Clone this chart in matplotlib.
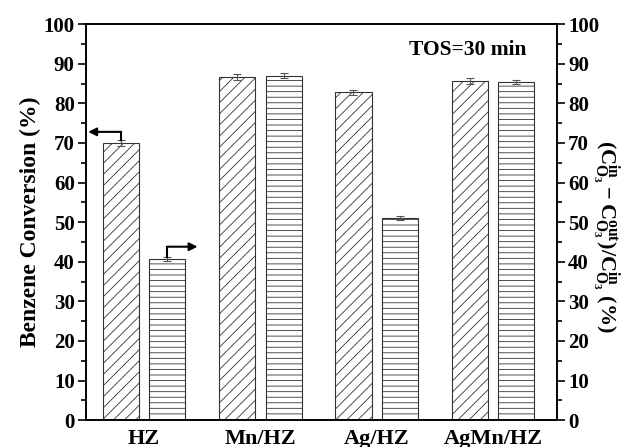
"""Bar chart of benzene conversion and ozone conversion over HZ-based catalysts."""
import matplotlib.pyplot as plt
from matplotlib.ticker import MultipleLocator
import numpy

plt.rcParams["font.family"] = ["Liberation Serif", "DejaVu Serif"]
plt.rcParams["font.weight"] = "bold"
plt.rcParams["axes.labelweight"] = "bold"
plt.rcParams["mathtext.fontset"] = "custom"
plt.rcParams["mathtext.rm"] = "Liberation Serif:bold"
plt.rcParams["mathtext.it"] = "Liberation Serif:bold"
plt.rcParams["mathtext.bf"] = "Liberation Serif:bold"
plt.rcParams["hatch.linewidth"] = 0.6

catalysts = ["HZ", "Mn/HZ", "Ag/HZ", "AgMn/HZ"]
benzene = [70.0, 86.7, 82.8, 85.7]
benzene_err = [0.8, 0.8, 0.6, 0.8]
ozone = [40.7, 87.0, 51.0, 85.4]
ozone_err = [0.6, 0.6, 0.5, 0.4]

fig, ax = plt.subplots(figsize=(6.36, 4.47), dpi=100)
fig.subplots_adjust(left=0.135, right=0.876, top=0.946, bottom=0.06)

x = numpy.arange(len(catalysts))
width = 0.31
offset = 0.2
err_kw = dict(ecolor="#555555", elinewidth=0.8, capsize=3, capthick=0.8)
ax.bar(x - offset, benzene, width, yerr=benzene_err, facecolor="white",
       edgecolor="#333333", linewidth=0.8, hatch="///", error_kw=err_kw)
ax2 = ax.twinx()
ax2.bar(x + offset, ozone, width, yerr=ozone_err, facecolor="white",
        edgecolor="#333333", linewidth=0.8, hatch="---", error_kw=err_kw)

for axis in (ax, ax2):
    axis.set_ylim(0, 100)
    axis.yaxis.set_major_locator(MultipleLocator(10))
    axis.yaxis.set_minor_locator(MultipleLocator(5))
    axis.tick_params(axis="y", which="major", length=6, width=1.2,
                     labelsize=15, pad=2)
    axis.tick_params(axis="y", which="minor", length=3.5, width=1.2)
    for spine in axis.spines.values():
        spine.set_linewidth(1.2)
ax.set_xlim(-0.5, 3.55)
ax.set_xticks(x, catalysts, fontsize=16)
ax.tick_params(axis="x", length=0, pad=6)

ax.set_ylabel("Benzene Conversion (%)", fontsize=17, labelpad=2)
ax2.set_ylabel(r"$(\mathrm{C}_{\mathrm{O_3}}^{\mathrm{in}}-\mathrm{C}_{\mathrm{O_3}}^{\mathrm{out}})/"
               r"\mathrm{C}_{\mathrm{O_3}}^{\mathrm{in}}$ (%)",
               fontsize=16, rotation=270, labelpad=16)
ax2.yaxis.set_label_coords(1.135, 0.465)

ax.text(0.934, 0.934, "TOS=30 min", transform=ax.transAxes, ha="right",
        va="center", fontsize=15.5)

# Arrows pointing each series of the first group to its axis
arrow_kw = dict(color="black", linewidth=1.5)
head_kw = dict(arrowstyle="-|>", color="black", lw=1.5, mutation_scale=12,
               shrinkA=0, shrinkB=0)
ax.plot([x[0] - offset, x[0] - offset], [benzene[0] + 0.8, 72.8], **arrow_kw)
ax.annotate("", xy=(-0.48, 72.8), xytext=(x[0] - offset, 72.8),
            arrowprops=head_kw)
ax2.plot([x[0] + offset, x[0] + offset], [ozone[0] + 0.6, 43.8], **arrow_kw)
ax2.annotate("", xy=(0.46, 43.8), xytext=(x[0] + offset, 43.8),
             arrowprops=head_kw)

fig.savefig("out.png", dpi=100)
